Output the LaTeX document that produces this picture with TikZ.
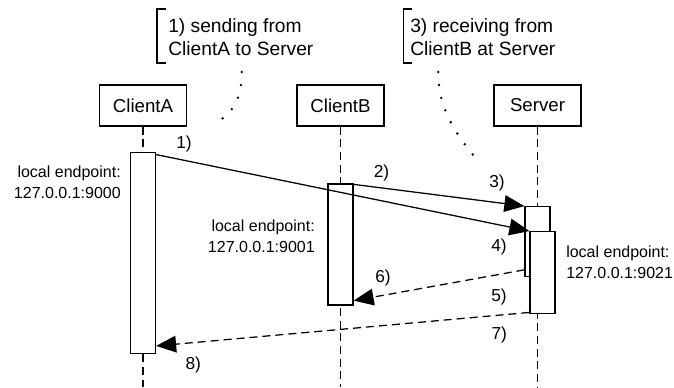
\documentclass[tikz,border=0pt]{standalone}
\usepackage{fontspec}
\setmainfont{Liberation Sans}
\usetikzlibrary{arrows.meta,calc}
\begin{document}
\begin{tikzpicture}[x=0.75pt,y=-0.75pt,
  lw/.style={line width=0.95pt},
  objbox/.style={draw, lw, minimum width=65.25pt, minimum height=30.75pt, inner sep=0pt, font=\fontsize{14}{17}\selectfont},
  actbox/.style={draw, lw, fill=white, minimum width=18.75pt, inner sep=0pt},
  lifeline/.style={lw, dash pattern=on 6pt off 3.5pt},
  msg/.style={lw, -{Triangle[length=15pt,width=12.5pt]}},
  reply/.style={msg, dash pattern=on 6pt off 3.75pt},
  steplabel/.style={font=\fontsize{13}{15}\selectfont, inner sep=0pt},
  eplabel/.style={font=\fontsize{12}{15.75}\selectfont, inner sep=0pt},
  notetext/.style={font=\fontsize{14.4}{17.25}\selectfont, inner sep=0pt, align=left, anchor=west},
  dots/.style={line width=2pt, line cap=round, dash pattern=on 0pt off 9.8pt},
]
\fill[white] (0,0) rectangle (674,387);
\useasboundingbox (0,0) rectangle (674,387);

% objects
\node[objbox] (A) at (143,105.5) {ClientA};
\node[objbox] (B) at (340.5,105.5) {ClientB};
\node[objbox] (S) at (537.5,105.5) {Server};
\coordinate (bottom) at (0,387);

% activations (positions only)
\coordinate (pA) at (143,253);
\coordinate (pB) at (340.5,244.5);
\coordinate (pS1) at (537.5,241.7);
\coordinate (pS2) at (542.5,272.5);

% lifelines
\draw[lifeline] (A.south) -- (A.south |- pA);
\draw[lifeline] (A.south |- pA) -- (A.south |- bottom);
\draw[lifeline] (B.south) -- (B.south |- pB);
\draw[lifeline] (B.south |- pB) -- (B.south |- bottom);
\draw[lifeline] (S.south) -- (S.south |- pS1);
\draw[lifeline] (S.south |- pS2) -- (S.south |- bottom);

\node[actbox, minimum height=150.45pt] (actA) at (pA) {};
\node[actbox, minimum height=90.75pt] (actB) at (pB) {};
\node[actbox, minimum height=52.5pt] (S1) at (pS1) {};
\node[actbox, minimum height=61.2pt] (S2) at (pS2) {};

% messages
\draw[msg] ($(actA.north east)+(0,2.5)$) -- (S2.north west);
\draw[msg] ($(actB.north east)+(0,1)$) -- (S1.north west);
\draw[reply] ($(S1.south west)+(0,-7.5)$) -- ($(actB.south east)+(0,-5)$);
\draw[reply] ($(S2.south west)+(0,-1.5)$) -- ($(actA.south east)+(0,-8)$);

% step labels
\node[steplabel] (l1) at (184,144) {1)};
\node[steplabel] (l2) at (381.5,173) {2)};
\node[steplabel] (l3) at (497,183) {3)};
\node[steplabel] (l4) at (499,247.5) {4)};
\node[steplabel] (l5) at (499,297.5) {5)};
\node[steplabel] (l6) at (383,278.3) {6)};
\node[steplabel] (l7) at (499.3,335.5) {7)};
\node[steplabel] (l8) at (193.3,365.5) {8)};

% endpoint labels
\node[eplabel, align=right, anchor=east] (epA) at (121,182) {local endpoint:\\127.0.0.1:9000};
\node[eplabel, align=right, anchor=east] (epB) at (315,236) {local endpoint:\\127.0.0.1:9001};
\node[eplabel, align=left, anchor=west] (epS) at (566,262) {local endpoint:\\127.0.0.1:9021};

% notes
\draw[lw] (166,9) -- (157,9) -- (157,63) -- (166,63);
\node[notetext] (n1) at (168,37.5) {1) sending from\\ClientA to Server};
\draw[lw] (412,9) -- (403.3,9) -- (403.3,63) -- (412,63);
\node[notetext] (n3) at (410,37.5) {3) receiving from\\ClientB at Server};

\coordinate (d1s) at (241.7,72);
\coordinate (d1e) at (211.7,125);
\coordinate (d3s) at (438.3,72);
\coordinate (d3e) at (474,156);
\draw[dots] (d1s) .. controls (242,100) and (232,115) .. (d1e);
\draw[dots] (d3s) .. controls (438,100) and (448,125) .. (d3e);
\end{tikzpicture}
\end{document}
